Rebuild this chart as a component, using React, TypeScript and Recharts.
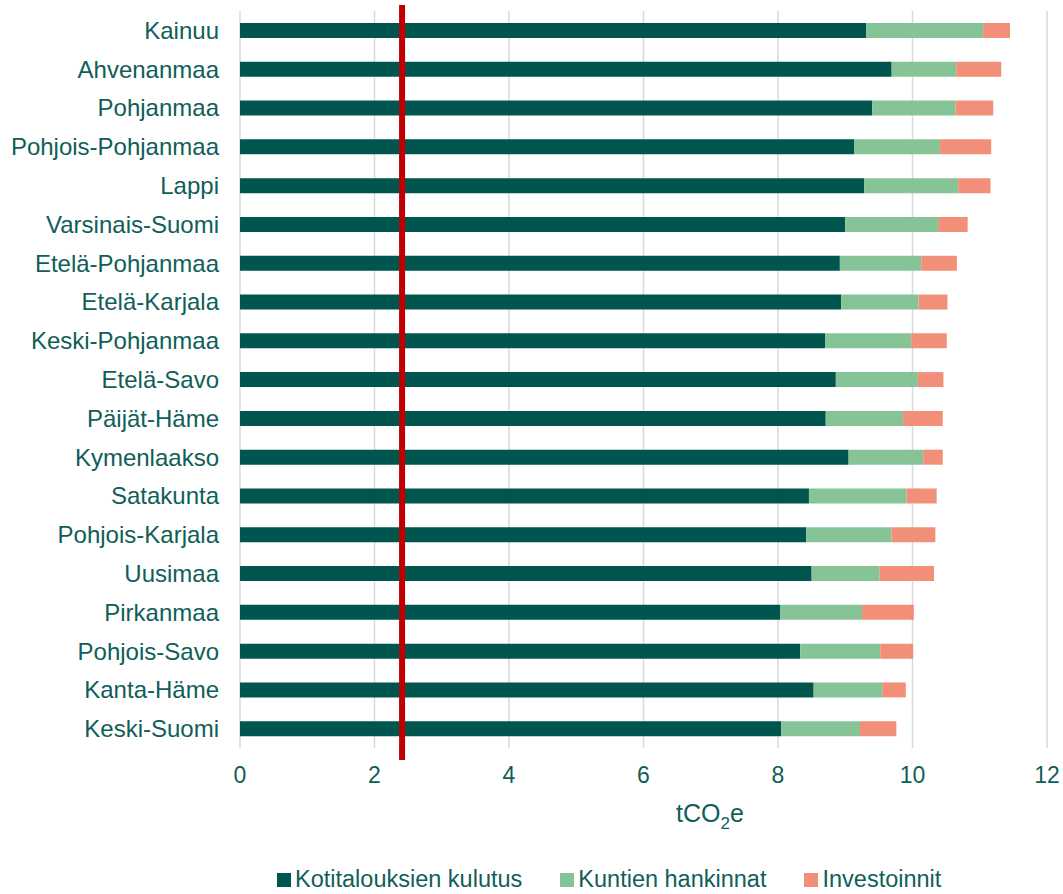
import React from 'react';
import { BarChart, Bar, XAxis, YAxis, CartesianGrid, ReferenceLine, Legend } from 'recharts';

const categories = [
  'Kainuu', 'Ahvenanmaa', 'Pohjanmaa', 'Pohjois-Pohjanmaa', 'Lappi', 'Varsinais-Suomi',
  'Etelä-Pohjanmaa', 'Etelä-Karjala', 'Keski-Pohjanmaa', 'Etelä-Savo', 'Päijät-Häme',
  'Kymenlaakso', 'Satakunta', 'Pohjois-Karjala', 'Uusimaa', 'Pirkanmaa', 'Pohjois-Savo',
  'Kanta-Häme', 'Keski-Suomi',
];
const household = [9.31, 9.69, 9.40, 9.13, 9.28, 9.00, 8.92, 8.94, 8.70, 8.86, 8.71, 9.05, 8.46, 8.42, 8.50, 8.03, 8.33, 8.53, 8.05];
const municipal = [1.74, 0.96, 1.24, 1.28, 1.40, 1.38, 1.21, 1.15, 1.28, 1.22, 1.15, 1.11, 1.45, 1.27, 1.01, 1.22, 1.19, 1.02, 1.17];
const investments = [0.40, 0.67, 0.56, 0.76, 0.48, 0.44, 0.53, 0.43, 0.53, 0.38, 0.59, 0.29, 0.45, 0.65, 0.81, 0.77, 0.49, 0.35, 0.54];
const xTicks = [0, 2, 4, 6, 8, 10, 12];
const referenceValue = 2.41;

const seriesNames = ['Kotitalouksien kulutus', 'Kuntien hankinnat', 'Investoinnit'];
const seriesColors = ['#00564F', '#86C497', '#F28F79'];

const data = categories.map((region, i) => ({
  region,
  household: household[i],
  municipal: municipal[i],
  investments: investments[i],
}));

const TEXT = '#0F5E58';
const FONT = '"Liberation Sans", Arial, sans-serif';

const AxisTitle = (props: any) => {
  const vb = props.viewBox || {};
  const cx = vb.x + 470;
  const y = vb.y + 74;
  return (
    <text x={cx} y={y} textAnchor="middle" fill={TEXT} fontSize={25} fontFamily={FONT}>
      <tspan>tCO</tspan>
      <tspan fontSize={17} dy={7}>2</tspan>
      <tspan dy={-7}>e</tspan>
    </text>
  );
};

const LegendContent = () => (
  <div style={{ display: 'flex', alignItems: 'center', paddingLeft: 277, fontFamily: FONT, fontSize: 23.5, color: TEXT }}>
    {seriesNames.map((n, i) => (
      <div key={n} style={{ display: 'flex', alignItems: 'center', marginRight: i < 2 ? 38 : 0 }}>
        <span style={{ display: 'inline-block', width: 14, height: 14, background: seriesColors[i], marginRight: 4 }} />
        <span>{n}</span>
      </div>
    ))}
  </div>
);

const RedLine = (p: any) => {
  const top = Math.min(p.y1, p.y2);
  const bottom = Math.max(p.y1, p.y2);
  return <line x1={p.x1} x2={p.x2} y1={top - 6} y2={bottom + 12} stroke="#C00000" strokeWidth={6} />;
};

export default function App() {
  return (
    <div style={{ position: 'absolute', left: 0, top: 0, width: 1063, height: 894, background: '#fff' }}>
      <BarChart
        layout="vertical"
        width={1063}
        height={894}
        data={data}
        margin={{ top: 11, right: 16, bottom: 66, left: 10 }}
        barSize={15}
        style={{ fontFamily: FONT }}
      >
        <CartesianGrid horizontal={false} stroke="#D9D9D9" strokeWidth={1.5} />
        <XAxis
          type="number"
          domain={[0, 12]}
          ticks={xTicks}
          axisLine={false}
          tickLine={false}
          tickSize={0}
          tickMargin={19}
          height={80}
          tick={{ fill: TEXT, fontSize: 23, fontFamily: FONT }}
          label={<AxisTitle />}
        />
        <YAxis
          type="category"
          dataKey="region"
          width={230}
          axisLine={false}
          tickLine={false}
          tickSize={0}
          tickMargin={21}
          interval={0}
          tick={{ fill: TEXT, fontSize: 24, fontFamily: FONT }}
        />
        <Bar dataKey="household" name={seriesNames[0]} stackId="a" fill={seriesColors[0]} isAnimationActive={false} />
        <Bar dataKey="municipal" name={seriesNames[1]} stackId="a" fill={seriesColors[1]} isAnimationActive={false} />
        <Bar dataKey="investments" name={seriesNames[2]} stackId="a" fill={seriesColors[2]} isAnimationActive={false} />
        <ReferenceLine x={referenceValue} shape={<RedLine />} ifOverflow="visible" />
        <Legend
          layout="horizontal"
          verticalAlign="middle"
          align="center"
          content={<LegendContent />}
          wrapperStyle={{ top: 866, left: 0, width: 1063 }}
        />
      </BarChart>
    </div>
  );
}
